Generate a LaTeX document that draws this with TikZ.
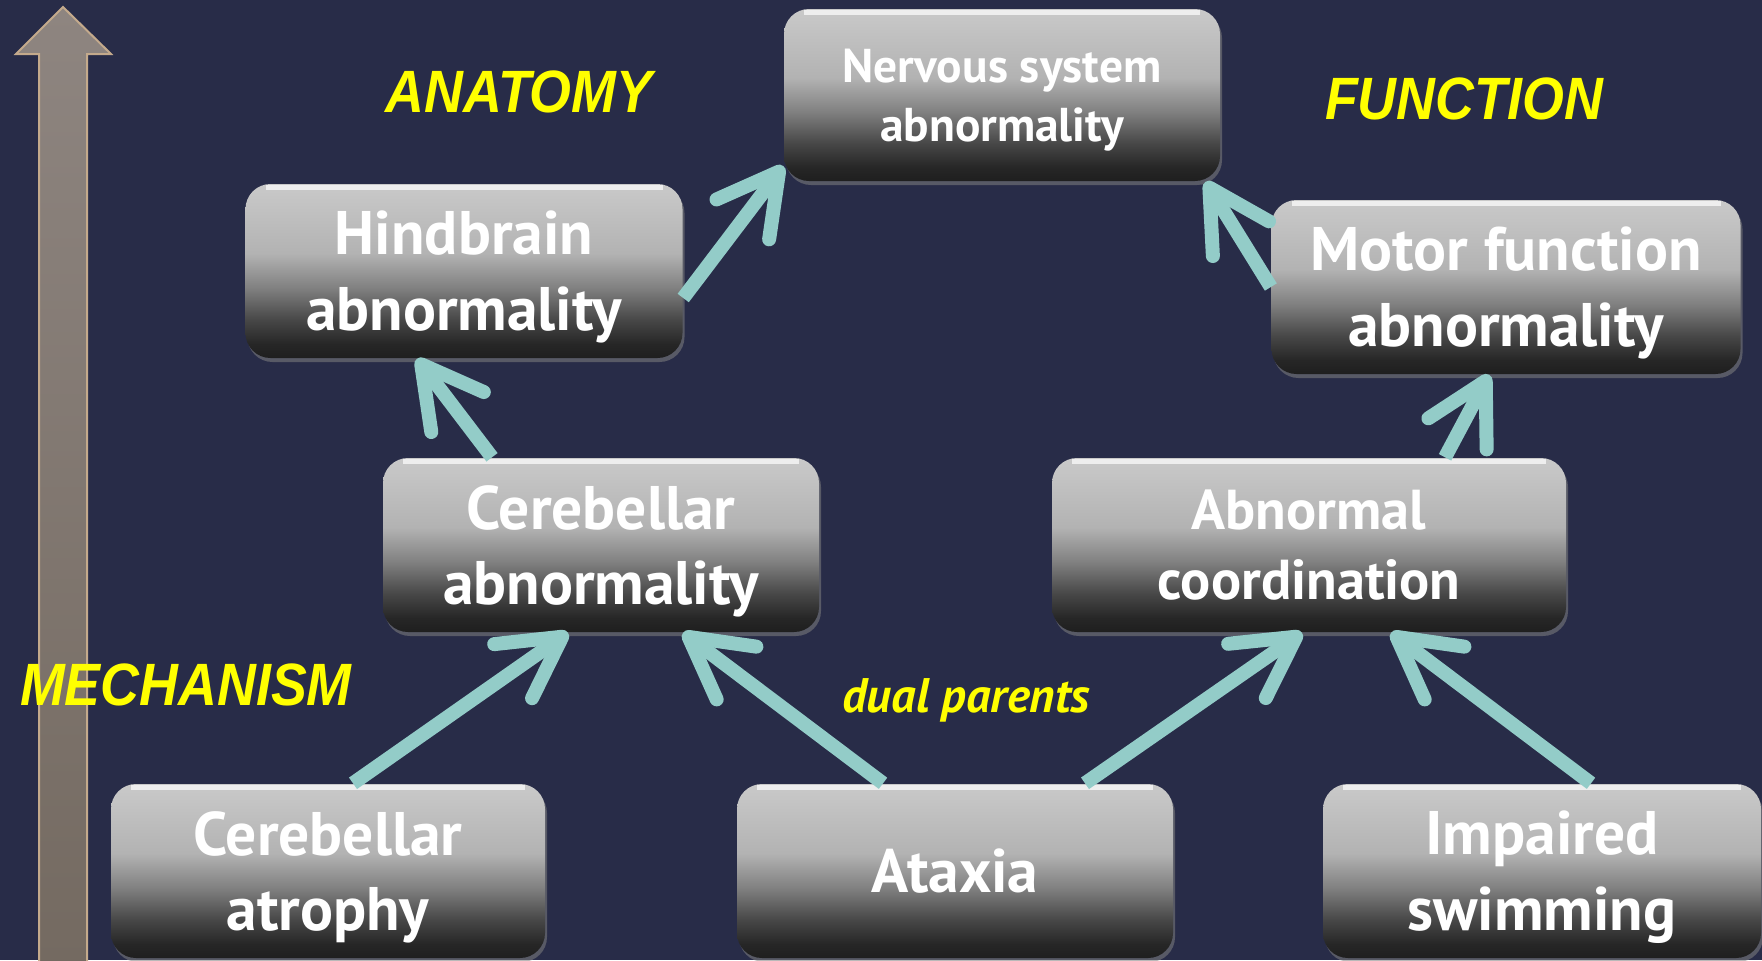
\documentclass[tikz,border=0pt]{standalone}
\usepackage{fontspec}
\setmainfont{PT Sans}
\newfontfamily\tagfont[FakeStretch=0.9]{Liberation Sans}
\usetikzlibrary{arrows.meta,shadows}

\definecolor{bgnavy}{RGB}{40,44,72}
\definecolor{linkteal}{RGB}{147,204,200}
\definecolor{scaletop}{RGB}{142,133,128}
\definecolor{scalebot}{RGB}{116,106,97}
\definecolor{scalerim}{RGB}{196,170,140}
\definecolor{tagyellow}{RGB}{255,255,0}

% grey bevel of the boxes, dark at the bottom
\pgfdeclareverticalshading{boxshade}{100bp}{color(0bp)=(black!88); color(25bp)=(black!88);
  color(29bp)=(black!85); color(36bp)=(black!72); color(45bp)=(black!50);
  color(55bp)=(black!30); color(75bp)=(black!21); color(100bp)=(black!21)}

\begin{document}
\begin{tikzpicture}
  [box/.style={rounded corners=0.25cm,shading=boxshade,text=white,align=center,
     inner sep=0pt,minimum height=1.74cm,text depth=0pt,
     font=\fontsize{17.5}{21.6}\selectfont\bfseries,
     drop shadow={opacity=0.55,shadow xshift=0.02cm,shadow yshift=-0.04cm},
     path picture={\draw[white,line width=0.05cm,opacity=0.7]
       ([xshift=0.2cm,yshift=-0.03cm]path picture bounding box.north west) --
       ([xshift=-0.2cm,yshift=-0.03cm]path picture bounding box.north east);}},
   link/.style={draw=linkteal,line width=0.14cm,-{Straight Barb[length=0.6cm,width=0.66cm,round]}},
   tag/.style={text=tagyellow,inner sep=0pt,font=\tagfont\fontsize{17}{20}\selectfont\bfseries\itshape}]

  \fill[bgnavy] (0,0) rectangle (17.62,9.60);
  \useasboundingbox (0,0) rectangle (17.62,9.60);

  % the scale arrow on the left
  \shade[top color=scaletop,bottom color=scalebot,draw=scalerim,line width=0.02cm]
    (0.39,-0.05) -- (0.39,9.06) -- (0.16,9.06) -- (0.63,9.53) -- (1.11,9.06)
    -- (0.87,9.06) -- (0.87,-0.05) -- cycle;

  \node (nervous) at (10.02,8.65) [box,minimum width=4.36cm,minimum height=1.72cm,
    font=\fontsize{13.5}{16.8}\selectfont\bfseries] {Nervous system\\abnormality};
  \node (hind) at (4.64,6.89) [box,minimum width=4.37cm] {Hindbrain\\abnormality};
  \node (motor) at (15.06,6.73) [box,minimum width=4.69cm] {Motor function\\abnormality};
  \node (cereb) at (6.01,4.15) [box,minimum width=4.36cm] {Cerebellar\\abnormality};
  \node (coord) at (13.09,4.15) [box,minimum width=5.14cm,
    font=\fontsize{16}{19.9}\selectfont\bfseries] {Abnormal\\coordination};
  \node (atrophy) at (3.28,0.89) [box,minimum width=4.34cm] {Cerebellar\\atrophy};
  \node (ataxia) at (9.55,0.89) [box,minimum width=4.36cm] {Ataxia};
  \node (swim) at (15.42,0.89) [box,minimum width=4.38cm] {Impaired\\swimming};

  \draw[link] ([yshift=-0.27cm]hind.east) -- ([yshift=-0.71cm]nervous.west);
  \draw[link] (motor.west) -- ([xshift=-0.15cm]nervous.south east);
  \foreach \from/\fx/\to/\tx in {cereb.north/-1.09/hind.south/-0.47,
      coord.north/1.36/motor.south/-0.17, atrophy.north/0.25/cereb.south/-0.33,
      ataxia.north/-0.72/cereb.south/0.82, ataxia.north/1.30/coord.south/-0.07,
      swim.north/0.49/coord.south/0.82}
    \draw[link] ([xshift=\fx cm]\from) -- ([xshift=\tx cm]\to);

  \node (anatomy) at (5.19,8.68) [tag] {ANATOMY};
  \node (function) at (14.64,8.61) [tag] {FUNCTION};
  \node (mechanism) at (1.86,2.75) [tag] {MECHANISM};
  \node (dual) at (9.66,2.60) [tag,font=\fontsize{13.8}{16}\selectfont\bfseries\itshape] {dual parents};

\end{tikzpicture}
\end{document}
